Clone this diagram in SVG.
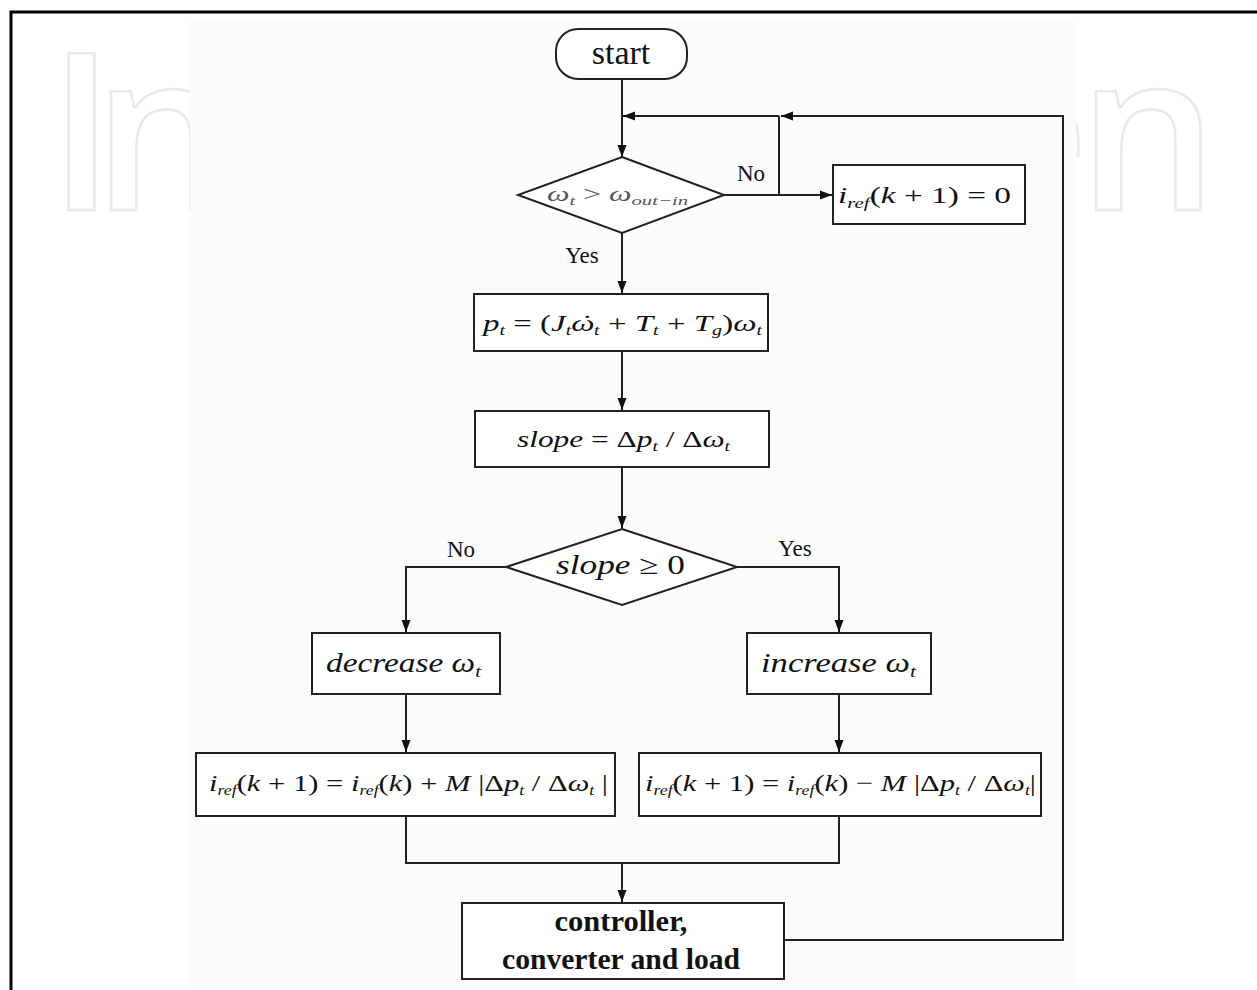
<svg xmlns="http://www.w3.org/2000/svg" width="1257" height="990" viewBox="0 0 1257 990">
<defs>
<style>
.ln{stroke:#222;stroke-width:2;fill:none}
.box{fill:#fff;stroke:#222;stroke-width:2}
.t{font-family:"Liberation Serif","Times New Roman",serif;fill:#111}
.i{font-style:italic}
.lbl{font-size:23px}
.wm{font-family:"Open Sans","Noto Sans",sans-serif;font-weight:600;font-size:220px;fill:#fff;stroke:#e9e9e9;stroke-width:2.5}
</style>
<marker id="ah" markerWidth="12" markerHeight="10" refX="12" refY="5" orient="auto" markerUnits="userSpaceOnUse">
<path d="M0,0.5 L12,5 L0,9.5 z" fill="#111"/>
</marker>
</defs>
<rect x="0" y="0" width="1257" height="990" fill="#fff"/>
<g id="watermark">
<text class="wm" x="48 93" y="210">In</text>
<text class="wm" x="962 1078" y="210">en</text>
</g>
<rect x="190" y="20" width="886" height="966" fill="#fcfcfc"/>
<path d="M11,990 V12 H1257" fill="none" stroke="#000" stroke-width="3"/>

<g id="connectors">
<path class="ln" d="M622,79 V157" marker-end="url(#ah)"/>
<path class="ln" d="M784,940 H1063 V116 H781" marker-end="url(#ah)"/>
<path class="ln" d="M779,116 H623" marker-end="url(#ah)"/>
<path class="ln" d="M724,195 H832" marker-end="url(#ah)"/>
<path class="ln" d="M779,195 V116"/>
<path class="ln" d="M622,233 V293" marker-end="url(#ah)"/>
<path class="ln" d="M622,351 V410" marker-end="url(#ah)"/>
<path class="ln" d="M622,467 V528" marker-end="url(#ah)"/>
<path class="ln" d="M506,567 H406 V632" marker-end="url(#ah)"/>
<path class="ln" d="M737,567 H839 V632" marker-end="url(#ah)"/>
<path class="ln" d="M406,694 V752" marker-end="url(#ah)"/>
<path class="ln" d="M839,694 V752" marker-end="url(#ah)"/>
<path class="ln" d="M406,816 V863 H839 V816"/>
<path class="ln" d="M622,863 V902" marker-end="url(#ah)"/>
<text class="t lbl" x="751" y="181" text-anchor="middle">No</text>
<text class="t lbl" x="582" y="263" text-anchor="middle">Yes</text>
<text class="t lbl" x="461" y="557" text-anchor="middle">No</text>
<text class="t lbl" x="795" y="556" text-anchor="middle">Yes</text>
</g>

<g id="start">
<rect class="box" x="556" y="29" width="131" height="50" rx="22"/>
<text class="t" x="621" y="64" text-anchor="middle" font-size="34">start</text>
</g>

<g id="decision1">
<polygon class="box" points="622,157 724,195 622,233 518,195"/>
<text class="t" x="547" y="201" font-size="20" style="fill:#555" textLength="141" lengthAdjust="spacingAndGlyphs"><tspan class="i">ω</tspan><tspan class="i" font-size="13" dy="4">t</tspan><tspan dy="-4"> &gt; </tspan><tspan class="i">ω</tspan><tspan class="i" font-size="13" dy="4">out−in</tspan></text>
</g>

<g id="iref-zero">
<rect class="box" x="833" y="165" width="192" height="59"/>
<text class="t" x="838" y="203" font-size="24" textLength="173" lengthAdjust="spacingAndGlyphs"><tspan class="i">i</tspan><tspan class="i" font-size="15" dy="5">ref</tspan><tspan dy="-5">(</tspan><tspan class="i">k</tspan><tspan> + 1) = 0</tspan></text>
</g>

<g id="power">
<rect class="box" x="474" y="294" width="294" height="57"/>
<text class="t" x="483" y="331" font-size="23" textLength="279" lengthAdjust="spacingAndGlyphs"><tspan class="i">p</tspan><tspan class="i" font-size="14" dy="4">t</tspan><tspan dy="-4"> = (</tspan><tspan class="i">J</tspan><tspan class="i" font-size="14" dy="4">t</tspan><tspan class="i" dy="-4">ω</tspan><tspan dx="-9">˙</tspan><tspan class="i" font-size="14" dx="1" dy="4">t</tspan><tspan dy="-4"> + </tspan><tspan class="i">T</tspan><tspan class="i" font-size="14" dy="4">t</tspan><tspan dy="-4"> + </tspan><tspan class="i">T</tspan><tspan class="i" font-size="14" dy="4">g</tspan><tspan dy="-4">)</tspan><tspan class="i">ω</tspan><tspan class="i" font-size="14" dy="4">t</tspan></text>
</g>

<g id="slope">
<rect class="box" x="475" y="411" width="294" height="56"/>
<text class="t" x="517" y="447" font-size="24" textLength="213" lengthAdjust="spacingAndGlyphs"><tspan class="i">slope</tspan><tspan> = Δ</tspan><tspan class="i">p</tspan><tspan class="i" font-size="15" dy="4">t</tspan><tspan dy="-4"> / Δ</tspan><tspan class="i">ω</tspan><tspan class="i" font-size="15" dy="4">t</tspan></text>
</g>

<g id="decision2">
<polygon class="box" points="622,529 737,567 622,605 506,567"/>
<text class="t" x="556" y="574" font-size="27" textLength="129" lengthAdjust="spacingAndGlyphs"><tspan class="i">slope</tspan><tspan> ≥ 0</tspan></text>
</g>

<g id="decrease">
<rect class="box" x="312" y="633" width="188" height="61"/>
<text class="t i" x="326" y="672" font-size="27" textLength="155" lengthAdjust="spacingAndGlyphs">decrease ω<tspan font-size="17" dy="5">t</tspan></text>
</g>

<g id="increase">
<rect class="box" x="747" y="633" width="184" height="61"/>
<text class="t i" x="761" y="672" font-size="27" textLength="155" lengthAdjust="spacingAndGlyphs">increase ω<tspan font-size="17" dy="5">t</tspan></text>
</g>

<g id="update-plus">
<rect class="box" x="196" y="753" width="419" height="63"/>
<text class="t" x="209" y="791" font-size="24" textLength="399" lengthAdjust="spacingAndGlyphs"><tspan class="i">i</tspan><tspan class="i" font-size="14" dy="4">ref</tspan><tspan dy="-4">(</tspan><tspan class="i">k</tspan><tspan> + 1) = </tspan><tspan class="i">i</tspan><tspan class="i" font-size="14" dy="4">ref</tspan><tspan dy="-4">(</tspan><tspan class="i">k</tspan><tspan>) + </tspan><tspan class="i">M</tspan><tspan> |Δ</tspan><tspan class="i">p</tspan><tspan class="i" font-size="14" dy="4">t</tspan><tspan dy="-4"> / Δ</tspan><tspan class="i">ω</tspan><tspan class="i" font-size="14" dy="4">t</tspan><tspan dy="-4"> |</tspan></text>
</g>

<g id="update-minus">
<rect class="box" x="639" y="753" width="402" height="63"/>
<text class="t" x="645" y="791" font-size="24" textLength="391" lengthAdjust="spacingAndGlyphs"><tspan class="i">i</tspan><tspan class="i" font-size="14" dy="4">ref</tspan><tspan dy="-4">(</tspan><tspan class="i">k</tspan><tspan> + 1) = </tspan><tspan class="i">i</tspan><tspan class="i" font-size="14" dy="4">ref</tspan><tspan dy="-4">(</tspan><tspan class="i">k</tspan><tspan>) − </tspan><tspan class="i">M</tspan><tspan> |Δ</tspan><tspan class="i">p</tspan><tspan class="i" font-size="14" dy="4">t</tspan><tspan dy="-4"> / Δ</tspan><tspan class="i">ω</tspan><tspan class="i" font-size="14" dy="4">t</tspan><tspan dy="-4">|</tspan></text>
</g>

<g id="controller">
<rect class="box" x="462" y="903" width="322" height="76"/>
<text class="t" x="621" y="931" text-anchor="middle" font-size="29" font-weight="bold" textLength="133" lengthAdjust="spacingAndGlyphs">controller,</text>
<text class="t" x="621" y="969" text-anchor="middle" font-size="29" font-weight="bold" textLength="238" lengthAdjust="spacingAndGlyphs">converter and load</text>
</g>
</svg>
